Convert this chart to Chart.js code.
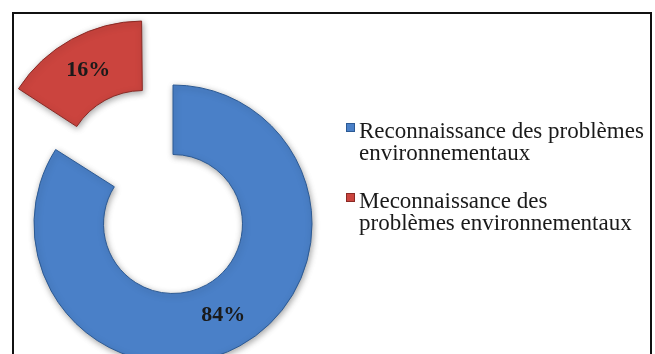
<!DOCTYPE html>
<html>
<head>
<meta charset="utf-8">
<script src="https://cdn.jsdelivr.net/npm/chart.js@4.4.0/dist/chart.umd.min.js"></script>
<style>
    html, body { margin: 0; padding: 0; background: #fff; }
    #wrap { position: relative; width: 655px; height: 354px; }
</style>
</head>
<body>
<div id="wrap"><canvas id="chart"></canvas></div>
<script>
// data
var labels = [
    ['Reconnaissance des problèmes', 'environnementaux'],
    ['Meconnaissance des', 'problèmes environnementaux']
];
var values = [84, 16];
var colors = ['#4a80c8', '#cb443e'];
var borders = ['#2c5a94', '#8a2a25'];
var offsets = [0, 248];

var SERIF = '"Liberation Serif", "Times New Roman", serif';

// white page + black frame
var framePlugin = {
    id: 'frame',
    beforeDraw: function (chart) {
        var ctx = chart.ctx;
        ctx.save();
        ctx.fillStyle = '#fff';
        ctx.fillRect(0, 0, chart.width, chart.height);
        ctx.strokeStyle = '#111';
        ctx.lineWidth = 2;
        ctx.strokeRect(13, 13, 638, 360);
        ctx.restore();
    },
    beforeDatasetsDraw: function (chart) {
        var ctx = chart.ctx;
        ctx.save();
        ctx.shadowColor = 'rgba(0,0,0,0.35)';
        ctx.shadowBlur = 6;
        ctx.shadowOffsetX = 1;
        ctx.shadowOffsetY = 2;
    },
    afterDatasetsDraw: function (chart) {
        chart.ctx.restore();
    }
};

// percent labels in the middle of each ring piece
var pctPlugin = {
    id: 'pct',
    afterDatasetsDraw: function (chart) {
        var ctx = chart.ctx;
        var meta = chart.getDatasetMeta(0);
        ctx.save();
        ctx.font = 'bold 22px ' + SERIF;
        ctx.fillStyle = '#1a1a1a';
        ctx.textAlign = 'center';
        ctx.textBaseline = 'middle';
        meta.data.forEach(function (arc, i) {
            var mid = (arc.startAngle + arc.endAngle) / 2;
            var off = (offsets[i] || 0) / 4;
            var fix = 1 - Math.sin(Math.min(Math.PI, arc.circumference));
            var r = (arc.innerRadius + arc.outerRadius) / 2 + off * fix + off;
            ctx.fillText(values[i] + '%', arc.x + Math.cos(mid) * r, arc.y + Math.sin(mid) * r);
        });
        ctx.restore();
    }
};

// legend on the right, two-line labels
var legendPlugin = {
    id: 'sideLegend',
    afterDraw: function (chart) {
        var ctx = chart.ctx;
        var ds = chart.data.datasets[0];
        ctx.save();
        ctx.font = '23px ' + SERIF;
        ctx.textBaseline = 'alphabetic';
        ctx.textAlign = 'left';
        chart.data.labels.forEach(function (lines, i) {
            var base = 138 + i * 70;
            ctx.fillStyle = ds.backgroundColor[i];
            ctx.fillRect(346, base - 15, 9, 9);
            ctx.strokeStyle = ds.borderColor[i];
            ctx.lineWidth = 1;
            ctx.strokeRect(346.5, base - 14.5, 8, 8);
            ctx.fillStyle = '#1a1a1a';
            lines.forEach(function (t, j) {
                ctx.fillText(t, 359, base + j * 22);
            });
        });
        ctx.restore();
    }
};

var ctx = document.getElementById('chart');
var myChart = new Chart(ctx, {
    type: 'doughnut',
    data: {
        labels: labels,
        datasets: [{
            data: values,
            backgroundColor: colors,
            borderColor: borders,
            borderWidth: 1,
            offset: offsets,
        }]
    },
    plugins: [framePlugin, pctPlugin, legendPlugin],
    options: {
        responsive: true,
        maintainAspectRatio: false,
        animation: false,
        radius: 139,
        cutout: '50%',
        layout: {
            padding: { left: 0, right: 309, top: 94, bottom: 0 }
        },
        plugins: {
            legend: { display: false },
            tooltip: { enabled: false },
            title: { display: false }
        }
    }
});
</script>
</body>
</html>
